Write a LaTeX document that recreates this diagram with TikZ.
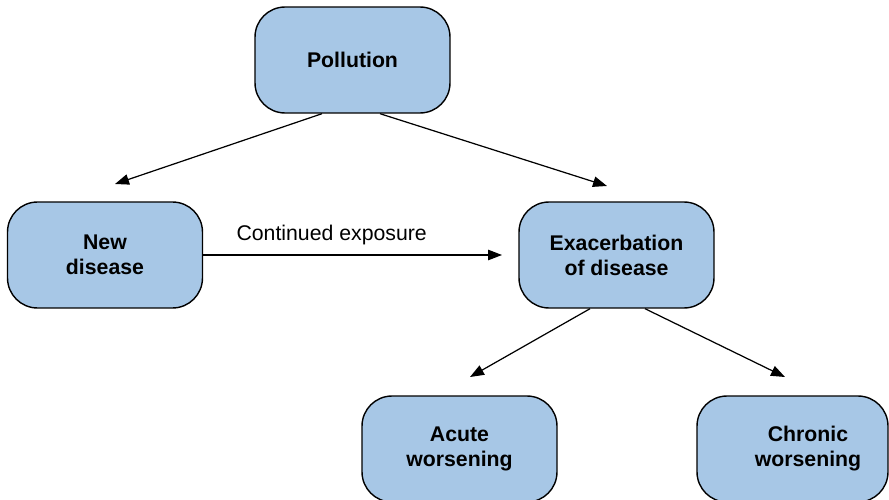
\documentclass[tikz,border=0pt]{standalone}
\usepackage{fontspec}
\setmainfont{Liberation Sans}
\usetikzlibrary{arrows.meta}
\definecolor{boxblue}{RGB}{167,199,230}

\begin{document}
\begin{tikzpicture}[x=0.02cm,y=-0.02cm,
        box/.style={draw,fill=boxblue,line width=0.8pt,rounded corners=0.6cm,
          minimum width=3.9cm,minimum height=2.12cm,inner sep=0pt,
          align=center,font=\fontsize{12.1}{14.2}\selectfont\bfseries},
        link/.style={line width=0.7pt,-{Triangle[length=0.28cm,width=0.21cm]}}]
        \useasboundingbox (0,0) rectangle (889,500);
        \clip (0,0) rectangle (889,500);
        \node[box] (poll) at (352.5,60) {Pollution};
        \node[box] (new) at (105,255) {New\\disease};
        \node[box] (exac) at (616.5,255) {Exacerbation\\of disease};
        \node[box] (acute) at (459.5,449) {Acute\\worsening};
        \node[box,minimum width=3.82cm,
          label={[xshift=0.31cm,align=center,
            font=\fontsize{12.1}{14.2}\selectfont\bfseries]center:Chronic\\worsening}]
        (chronic) at (792.5,449) {};
        \coordinate (newtip) at (115,184);
        \coordinate (exactip) at (607,186);
        \coordinate (exposuretip) at (502,255);
        \coordinate (acutetip) at (470,377);
        \coordinate (chronictip) at (785,377);
        \draw[link] ([xshift=-0.61cm]poll.south) -- (newtip);
        \draw[link] ([xshift=0.55cm]poll.south) -- (exactip);
        \draw[link] (new.east) -- node[pos=0.43,above=5.5pt,inner sep=0pt,
          font=\fontsize{12.1}{14.2}\selectfont] (exposure) {Continued exposure}
        (exposuretip);
        \draw[link] ([xshift=-0.53cm]exac.south) -- (acutetip);
        \draw[link] ([xshift=0.57cm]exac.south) -- (chronictip);
      \end{tikzpicture}
\end{document}
